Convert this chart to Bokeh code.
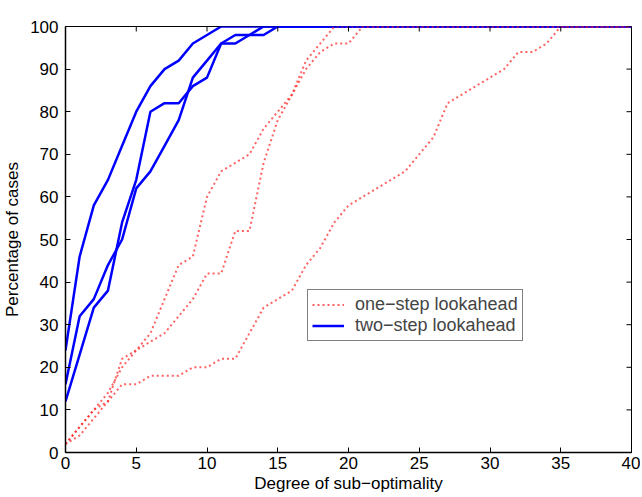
from bokeh.plotting import figure
from bokeh.models import Range1d, FixedTicker, Legend, LegendItem
from bokeh.embed import file_html
from bokeh.resources import INLINE

# ---- data ----
x_ticks = [0, 5, 10, 15, 20, 25, 30, 35, 40]
y_ticks = [0, 10, 20, 30, 40, 50, 60, 70, 80, 90, 100]

# one-step lookahead (three runs)
one1_x = [0, 1, 2, 3, 4, 5, 6, 7, 8, 9, 10, 11, 12, 13, 14, 15, 16, 17, 18, 19, 40]
one1_y = [2, 4, 8, 12, 22, 24, 28, 36, 44, 46, 60, 66, 68, 70, 76, 80, 84, 92, 96, 100, 100]

one2_x = [0, 1, 2, 3, 4, 5, 6, 7, 8, 9, 10, 11, 12, 13, 14, 15, 16, 17, 18, 19, 20, 21, 40]
one2_y = [2, 6, 10, 14, 20, 24, 26, 28, 32, 36, 42, 42, 52, 52, 68, 78, 84, 90, 94, 96, 96, 100, 100]

one3_x = [0, 1, 2, 3, 4, 5, 6, 7, 8, 9, 10, 11, 12, 13, 14, 15, 16, 17, 18, 19, 20,
          21, 22, 23, 24, 25, 26, 27, 28, 29, 30, 31, 32, 33, 34, 35, 40]
one3_y = [2, 6, 10, 12, 16, 16, 18, 18, 18, 20, 20, 22, 22, 28, 34, 36, 38, 44, 48, 54, 58,
          60, 62, 64, 66, 70, 74, 82, 84, 86, 88, 90, 94, 94, 96, 100, 100]

# two-step lookahead (three runs)
two1_x = [0, 1, 2, 3, 4, 5, 6, 7, 8, 9, 10, 11, 40]
two1_y = [24, 46, 58, 64, 72, 80, 86, 90, 92, 96, 98, 100, 100]

two2_x = [0, 1, 2, 3, 4, 5, 6, 7, 8, 9, 10, 11, 12, 13, 14, 40]
two2_y = [16, 32, 36, 44, 50, 62, 66, 72, 78, 88, 92, 96, 96, 98, 100, 100]

two3_x = [0, 1, 2, 3, 4, 5, 6, 7, 8, 9, 10, 11, 12, 13, 14, 15, 40]
two3_y = [12, 23, 34, 38, 54, 64, 80, 82, 82, 86, 88, 96, 98, 98, 98, 100, 100]

labels = ["one\u2212step lookahead", "two\u2212step lookahead"]

FONT = "Liberation Sans"
FS = "17px"

W, H = 640, 495
ML, MR, MT, MB = 65, 9, 26, 42
FW, FH = W - ML - MR, H - MT - MB

p = figure(width=W, height=H, output_backend="svg", toolbar_location=None,
           x_range=Range1d(0, 40), y_range=Range1d(0, 100),
           min_border_left=ML, min_border_right=MR, min_border_top=MT, min_border_bottom=MB)
p.xgrid.visible = False
p.ygrid.visible = False
p.outline_line_color = "black"
p.outline_line_width = 1
p.background_fill_color = "white"
p.border_fill_color = "white"

blue = "#0000ff"
red = "#ff2020"

b1 = p.line(two1_x, two1_y, line_color=blue, line_width=2.5)
b2 = p.line(two2_x, two2_y, line_color=blue, line_width=2.5)
b3 = p.line(two3_x, two3_y, line_color=blue, line_width=2.5)

r1 = p.line(one1_x, one1_y, line_color=red, line_width=2, line_dash="2 3", line_alpha=0.7)
r2 = p.line(one2_x, one2_y, line_color=red, line_width=2, line_dash="2 3", line_alpha=0.7)
r3 = p.line(one3_x, one3_y, line_color=red, line_width=2, line_dash="2 3", line_alpha=0.7)

# mirrored inward ticks on top and right edges (box style)
TICK = 5  # px
ty = 100 * TICK / FH
tx = 40 * TICK / FW
p.segment(x0=x_ticks, y0=[100] * len(x_ticks), x1=x_ticks, y1=[100 - ty] * len(x_ticks),
          line_color="black", line_width=1)
p.segment(x0=[40] * len(y_ticks), y0=y_ticks, x1=[40 - tx] * len(y_ticks), y1=y_ticks,
          line_color="black", line_width=1)

for ax in (p.xaxis[0], p.yaxis[0]):
    ax.major_tick_in = TICK
    ax.major_tick_out = 0
    ax.minor_tick_line_color = None
    ax.axis_line_color = "black"
    ax.axis_line_width = 1.5
    ax.major_tick_line_color = "black"
    ax.major_label_text_font = FONT
    ax.major_label_text_font_size = FS
    ax.major_label_text_color = "black"
    ax.axis_label_text_font = FONT
    ax.axis_label_text_font_size = FS
    ax.axis_label_text_font_style = "normal"
    ax.axis_label_text_color = "black"

p.xaxis[0].ticker = FixedTicker(ticks=x_ticks)
p.yaxis[0].ticker = FixedTicker(ticks=y_ticks)
p.xaxis[0].axis_label = "Degree of sub\u2212optimality"
p.yaxis[0].axis_label = "Percentage of cases"
p.xaxis[0].major_label_standoff = 4
p.xaxis[0].axis_label_standoff = 2
p.yaxis[0].major_label_standoff = 7
p.yaxis[0].axis_label_standoff = 5

legend = Legend(items=[LegendItem(label=labels[0], renderers=[r1]),
                       LegendItem(label=labels[1], renderers=[b1])],
                location=(242, 111), orientation="vertical",
                label_text_font=FONT, label_text_font_size="18px",
                glyph_width=32, glyph_height=19, label_standoff=11,
                padding=4, spacing=0, margin=0,
                border_line_color="black", border_line_width=1,
                background_fill_color="white", background_fill_alpha=1.0)
p.add_layout(legend, "center")

open("out.html", "w").write(file_html(p, INLINE))
